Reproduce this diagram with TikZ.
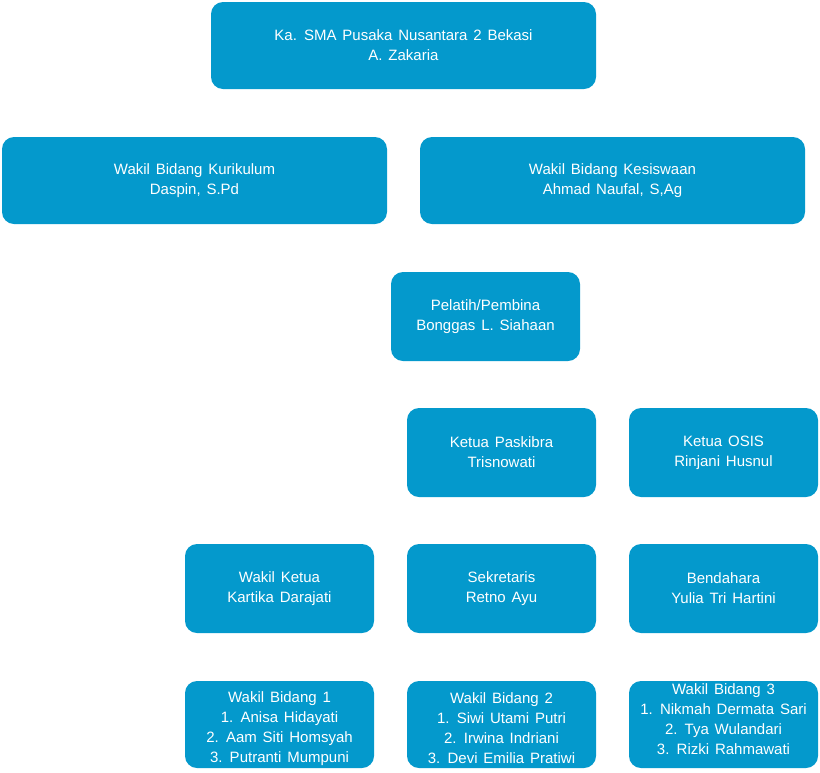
\documentclass[tikz,border=0pt]{standalone}
\usepackage{fontspec}
\setmainfont{Liberation Sans}[WordSpace={1.4,1,1}]
\usepackage{xcolor}
\usetikzlibrary{positioning}
\definecolor{orgblue}{RGB}{4,153,204}
\tikzset{
  wide/.style={draw=none, fill=orgblue, rounded corners=12pt, align=center, text=white, font=\fontsize{15}{20}\selectfont, inner sep=0pt, minimum width=385pt, minimum height=87pt},
  unit/.style={wide, minimum width=189pt, minimum height=89pt},
  list/.style={unit, minimum height=87pt},
  txt/.style={align=center, text=white, font=\fontsize{15}{20}\selectfont, inner sep=0pt}
}

\begin{document}
\begin{tikzpicture}[x=1pt, y=1pt]
    \useasboundingbox (0,0) rectangle (820,-772);
    \node[wide] (kepsek) at (403.5,-45.5) {Ka. SMA Pusaka Nusantara 2 Bekasi\\A. Zakaria};
    \node[wide] (kurikulum) at (194.5,-180.5) {Wakil Bidang Kurikulum\\Daspin, S.Pd};
    \node[wide] (kesiswaan) at (612.5,-180.5) {Wakil Bidang Kesiswaan\\Ahmad Naufal, S,Ag};
    \node[unit] (pembina) at (485.5,-316.5) {Pelatih/Pembina\\Bonggas L. Siahaan};
    \node[unit] (paskibra) at (501.5,-452.5) {Ketua Paskibra\\Trisnowati};
    \node[unit] (osis) at (723.5,-452.5) {Ketua OSIS\\Rinjani Husnul};
    \node[unit] (wakil) at (279.5,-588.5) {Wakil Ketua\\Kartika Darajati};
    \node[unit] (sekretaris) at (501.5,-588.5) {Sekretaris\\Retno Ayu};
    \node[unit] (bendahara) at (723.5,-588.5) {Bendahara\\Yulia Tri Hartini};
    \node[list] (bidang1) at (279.5,-724.5) {};
    \node[list] (bidang2) at (501.5,-724.5) {};
    \node[list] (bidang3) at (723.5,-724.5) {};
    \node[txt] (bidang1txt) at ([yshift=-4pt]bidang1.center) {Wakil Bidang 1\\1. Anisa Hidayati\\2. Aam Siti Homsyah\\3. Putranti Mumpuni};
    \node[txt] (bidang2txt) at ([yshift=-4pt]bidang2.center) {Wakil Bidang 2\\1. Siwi Utami Putri\\2. Irwina Indriani\\3. Devi Emilia Pratiwi};
    \node[txt] (bidang3txt) at ([yshift=5pt]bidang3.center) {Wakil Bidang 3\\1. Nikmah Dermata Sari\\2. Tya Wulandari\\3. Rizki Rahmawati};
  \end{tikzpicture}
\end{document}
